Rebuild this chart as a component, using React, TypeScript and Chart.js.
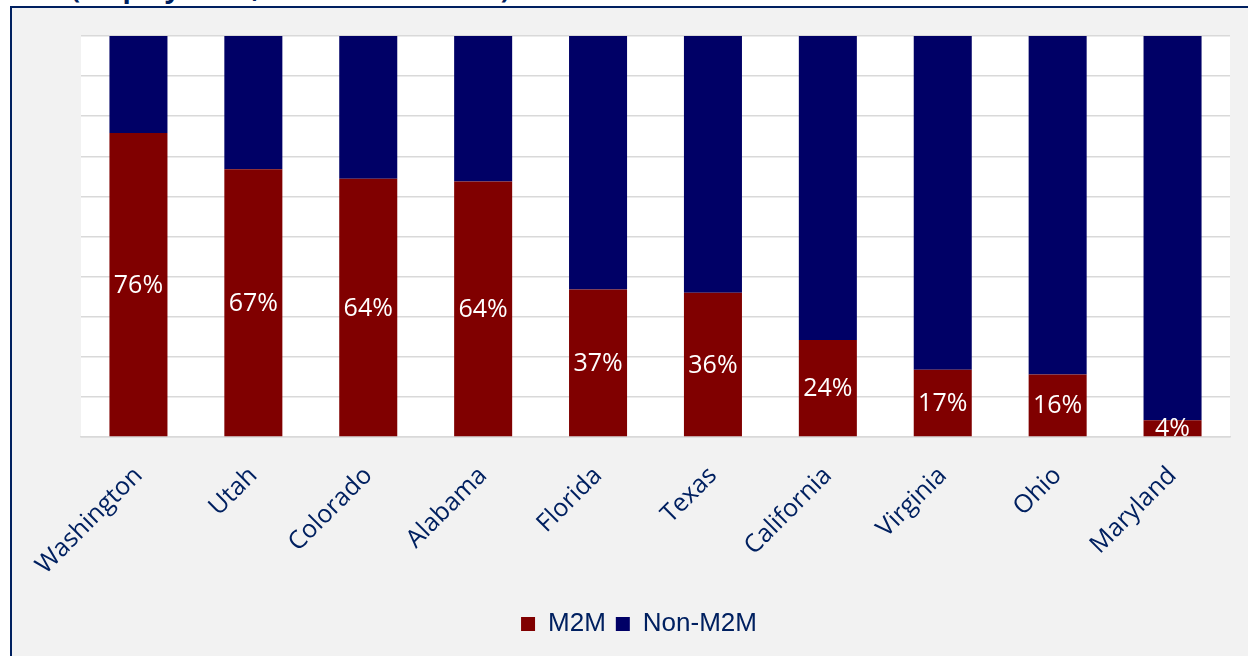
import React, { useEffect, useRef } from "react";
import { Chart, registerables } from "chart.js";

Chart.register(...registerables);

const categories = ["Washington", "Utah", "Colorado", "Alabama", "Florida", "Texas", "California", "Virginia", "Ohio", "Maryland"];
const m2mValues = [75.8, 66.8, 64.4, 63.7, 36.8, 36.0, 24.2, 16.8, 15.6, 4.2];
const nonM2mValues = [24.2, 33.2, 35.6, 36.3, 63.2, 64.0, 75.8, 83.2, 84.4, 95.8];
const seriesNames = ["M2M", "Non-M2M"];
const titleText = "(employment, share of the total)";

const NAVY_TEXT = "#002060";

const plotBg = {
  id: "plotBg",
  beforeDraw(chart: any) {
    const { ctx, chartArea } = chart;
    ctx.save();
    ctx.fillStyle = "#ffffff";
    ctx.fillRect(chartArea.left, chartArea.top, chartArea.right - chartArea.left, chartArea.bottom - chartArea.top);
    ctx.restore();
  },
};

const barLabels = {
  id: "barLabels",
  afterDatasetsDraw(chart: any) {
    const { ctx } = chart;
    const meta = chart.getDatasetMeta(0);
    ctx.save();
    ctx.fillStyle = "#ffffff";
    ctx.font = 'normal 400 25px "Open Sans"';
    ctx.textAlign = "center";
    ctx.textBaseline = "middle";
    meta.data.forEach((el: any, i: number) => {
      const v = chart.data.datasets[0].data[i] as number;
      ctx.fillText(Math.round(v) + "%", el.x, (el.y + el.base) / 2 + 1);
    });
    ctx.restore();
  },
};

export default function App() {
  const ref = useRef<HTMLCanvasElement>(null);

  useEffect(() => {
    document.body.style.margin = "0";
    const chart = new Chart(ref.current!, {
      type: "bar",
      data: {
        labels: categories,
        datasets: [
          { label: seriesNames[0], data: m2mValues, backgroundColor: "#800000", borderWidth: 0 },
          { label: seriesNames[1], data: nonM2mValues, backgroundColor: "#000066", borderWidth: 0 },
        ],
      },
      options: {
        animation: false,
        responsive: true,
        maintainAspectRatio: false,
        layout: { padding: { left: 36, top: 28, right: 18, bottom: 9 } },
        datasets: { bar: { categoryPercentage: 0.505, barPercentage: 1 } },
        scales: {
          x: {
            stacked: true,
            grid: { display: false, drawTicks: false },
            border: { display: true, color: "#d9d9d9", width: 1.5 },
            ticks: {
              minRotation: 45,
              maxRotation: 45,
              padding: 24,
              color: NAVY_TEXT,
              font: { family: '"Open Sans"', size: 25 },
            },
            afterFit(scale: any) {
              scale.height = 164;
              scale.paddingLeft = 0;
              scale.paddingRight = 0;
            },
          },
          y: {
            stacked: true,
            min: 0,
            max: 100,
            ticks: { display: false, stepSize: 10 },
            grid: { color: "#d9d9d9", lineWidth: 1.5, drawTicks: false },
            border: { display: false },
            afterFit(scale: any) {
              scale.width = 33;
            },
          },
        },
        plugins: {
          legend: {
            position: "bottom",
            labels: {
              boxWidth: 14,
              boxHeight: 14,
              padding: 10,
              color: NAVY_TEXT,
              font: { family: '"Liberation Sans", Arial', size: 26 },
            },
          },
          tooltip: { enabled: false },
          title: { display: false },
        },
      } as any,
      plugins: [plotBg, barLabels],
    });
    return () => chart.destroy();
  }, []);

  return (
    <div style={{ position: "fixed", left: 0, top: 0, width: 1248, height: 656, background: "#ffffff", overflow: "hidden" }}>
      <div
        style={{
          position: "absolute",
          left: 71,
          top: -26,
          fontFamily: '"Open Sans"',
          fontWeight: 700,
          fontSize: 27,
          lineHeight: "27px",
          color: NAVY_TEXT,
          whiteSpace: "nowrap",
        }}
      >
        {titleText}
      </div>
      <div
        style={{
          position: "absolute",
          left: 10,
          top: 6,
          width: 1238,
          height: 650,
          borderLeft: "2px solid " + NAVY_TEXT,
          borderTop: "2px solid " + NAVY_TEXT,
          background: "#f2f2f2",
        }}
      >
        <div style={{ position: "relative", width: 1236, height: 648 }}>
          <canvas ref={ref} />
        </div>
      </div>
    </div>
  );
}
